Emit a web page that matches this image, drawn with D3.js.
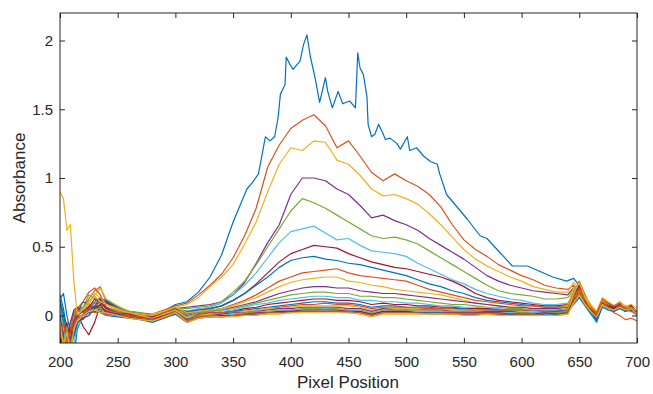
<!DOCTYPE html>
<html>
<head>
<meta charset="utf-8">
<script src="https://cdn.jsdelivr.net/npm/d3@7"></script>
<style>
    body { margin: 0; background: #fff; }
    #chart { width: 653px; height: 394px; }
    text { font-family: "Liberation Sans", Arial, sans-serif; fill: #262626; }
</style>
</head>
<body>
<div id="chart"></div>
<script>
// pixel positions shared by most spectra
const pixelGrid = [200,203,206,209,212,215,220,225,230,235,240,250,260,270,280,290,300,310,320,330,340,350,360,370,380,390,400,410,420,430,440,450,460,470,480,490,500,510,520,530,540,550,560,570,580,590,600,610,620,630,640,645,650,655,660,665,670,675,680,685,690,695,700];

// finer positions for the strongest spectrum (sharp spikes)
const peakGrid = [200,203,206,209,212,215,220,225,230,235,240,250,260,270,280,290,300,310,320,330,340,350,356,362,367,372,378,382,386,389,391,395,396,399,402,408,411,414,417,421,425,430,432,436,441,445,451,456,458,460,463,466,467,470,473,476,479,482,486,492,495,501,503,509,515,521,527,529,535,541,553,564,570,581,592,605,616,627,639,645,650,655,660,665,670,675,680,685,690,695,700];

const abs01 = [0.12,0.16,0.0,-0.12,-0.05,0.05,0.06,0.05,0.1,0.12,0.1,0.06,0.02,0.01,0.0,0.03,0.08,0.1,0.17,0.28,0.44,0.68,0.8,0.92,0.97,1.03,1.3,1.27,1.3,1.44,1.61,1.68,1.88,1.83,1.79,1.85,1.97,2.04,1.88,1.73,1.55,1.73,1.63,1.51,1.63,1.54,1.56,1.51,1.91,1.8,1.75,1.59,1.39,1.30,1.32,1.39,1.34,1.28,1.29,1.25,1.21,1.30,1.2,1.22,1.16,1.12,1.1,1.03,0.88,0.82,0.70,0.58,0.56,0.46,0.36,0.36,0.32,0.28,0.25,0.27,0.22,0.15,0.02,-0.05,0.1,0.08,0.05,0.07,0.05,0.06,0.02];
const abs02 = [-0.1,-0.22,-0.15,-0.05,0.02,0.04,0.05,0.12,0.18,0.21,0.1,0.05,0.03,0.02,0.01,0.04,0.07,0.09, 0.15,0.22,0.3,0.42,0.58,0.78,1.08,1.24,1.36,1.42,1.46,1.38,1.22,1.27,1.16,1.04,0.98,1.03,0.98,0.94,0.88,0.79,0.66,0.55,0.48,0.43,0.37,0.33,0.29,0.26,0.22,0.2,0.19, 0.22,0.18,0.12,0.06,-0.02,0.1,0.06,0.04,0.07,0.03,0.05,0.01];
const abs03 = [0.02,-0.18,-0.25,-0.12,0.0,0.06,0.03,0.1,0.15,0.2,0.12,0.07,0.03,0.0,0.01,0.03,0.06,0.08, 0.13,0.21,0.28,0.37,0.52,0.68,0.9,1.1,1.22,1.2,1.27,1.26,1.13,1.1,1.02,0.92,0.87,0.88,0.85,0.81,0.74,0.66,0.57,0.48,0.41,0.36,0.32,0.28,0.25,0.21,0.19,0.17,0.17, 0.24,0.2,0.14,0.07,0.0,0.12,0.08,0.05,0.09,0.06,0.07,0.03];
const abs04 = [-0.05,-0.2,-0.3,-0.15,-0.02,0.05,0.02,0.07,0.1,0.13,0.09,0.05,0.02,0.01,0.0,0.02,0.05,0.06, 0.07,0.08,0.1,0.15,0.24,0.38,0.53,0.66,0.88,1.0,1.0,0.98,0.92,0.88,0.8,0.71,0.73,0.69,0.66,0.62,0.56,0.51,0.46,0.41,0.35,0.29,0.25,0.22,0.2,0.18,0.17,0.16,0.15, 0.2,0.22,0.12,0.05,-0.03,0.09,0.07,0.03,0.08,0.05,0.04,0.02];
const abs05 = [0.08,-0.05,-0.25,-0.2,0.0,0.04,0.06,0.15,0.12,0.09,0.08,0.04,0.03,0.02,-0.01,0.02,0.05,0.05, 0.06,0.07,0.1,0.17,0.25,0.37,0.5,0.63,0.76,0.85,0.82,0.78,0.73,0.68,0.63,0.58,0.56,0.57,0.55,0.52,0.47,0.42,0.37,0.32,0.27,0.22,0.18,0.16,0.15,0.14,0.12,0.12,0.13, 0.18,0.24,0.1,0.06,0.02,0.11,0.05,0.06,0.1,0.04,0.06,0.0];
const abs06 = [0.0,-0.15,-0.22,-0.3,-0.1,-0.05,0.0,0.05,0.1,0.08,0.06,0.03,0.01,-0.01,-0.02,0.01,0.04,0.03, 0.05,0.06,0.09,0.15,0.22,0.31,0.42,0.53,0.61,0.63,0.65,0.6,0.55,0.56,0.51,0.47,0.46,0.45,0.43,0.38,0.34,0.3,0.26,0.23,0.19,0.16,0.14,0.12,0.11,0.09,0.08,0.08,0.09, 0.15,0.2,0.13,0.04,-0.04,0.08,0.06,0.04,0.06,0.07,0.03,0.04];
const abs07 = [-0.15,-0.28,-0.2,-0.1,-0.05,0.02,-0.08,-0.14,-0.05,0.08,0.1,0.04,0.02,0.0,-0.01,0.01,0.05,0.02, 0.04,0.05,0.07,0.11,0.16,0.23,0.31,0.39,0.45,0.48,0.51,0.5,0.49,0.45,0.42,0.39,0.37,0.35,0.34,0.32,0.3,0.28,0.25,0.21,0.16,0.13,0.11,0.1,0.09,0.08,0.07,0.07,0.08, 0.14,0.19,0.11,0.05,0.01,0.1,0.09,0.05,0.07,0.04,0.08,0.01];
const abs08 = [0.15,0.05,-0.1,-0.22,-0.05,0.02,0.1,0.08,0.05,0.12,0.11,0.06,0.02,0.01,-0.02,0.02,0.05,0.03, 0.04,0.05,0.07,0.11,0.16,0.22,0.28,0.35,0.4,0.42,0.43,0.41,0.4,0.38,0.37,0.35,0.33,0.31,0.29,0.26,0.23,0.21,0.18,0.16,0.13,0.11,0.1,0.09,0.08,0.07,0.06,0.06,0.07, 0.17,0.21,0.12,0.03,-0.05,0.1,0.07,0.06,0.08,0.06,0.04,0.03];
const abs09 = [-0.2,-0.1,-0.25,-0.1,0.02,0.05,0.1,0.17,0.2,0.15,0.06,0.03,0.02,0.0,0.0,0.02,0.06,0.01, 0.03,0.04,0.05,0.08,0.11,0.15,0.2,0.25,0.28,0.31,0.32,0.33,0.34,0.31,0.29,0.28,0.27,0.26,0.25,0.22,0.19,0.17,0.15,0.13,0.11,0.1,0.09,0.08,0.07,0.07,0.06,0.06,0.08, 0.16,0.25,0.15,0.06,-0.01,0.12,0.06,0.02,0.0,-0.03,-0.02,-0.04];
const abs10 = [0.05,-0.12,-0.2,-0.28,-0.05,0.03,0.04,0.08,0.16,0.13,0.08,0.05,0.02,0.01,0.0,0.03,0.06,0.02, 0.03,0.04,0.05,0.07,0.1,0.13,0.17,0.21,0.24,0.26,0.27,0.28,0.28,0.25,0.24,0.22,0.21,0.19,0.18,0.17,0.16,0.15,0.13,0.11,0.09,0.08,0.07,0.06,0.06,0.05,0.05,0.05,0.07, 0.2,0.23,0.14,0.08,0.03,0.13,0.1,0.07,0.1,0.07,0.08,0.05];
const abs11 = [-0.1,-0.25,-0.18,-0.05,0.04,0.06,0.02,0.03,0.07,0.12,0.06,0.02,0.0,-0.01,-0.02,0.0,0.04,0.0, 0.02,0.03,0.04,0.06,0.08,0.1,0.13,0.16,0.18,0.2,0.21,0.21,0.2,0.2,0.18,0.17,0.16,0.16,0.15,0.14,0.13,0.12,0.11,0.1,0.09,0.08,0.07,0.06,0.06,0.05,0.05,0.05,0.06, 0.12,0.18,0.1,0.05,0.0,0.09,0.06,0.05,0.08,0.04,0.05,0.02];
const abs12 = [0.1,-0.02,-0.2,-0.15,-0.03,0.02,0.06,0.1,0.14,0.08,0.05,0.03,0.01,0.0,-0.03,0.01,0.04,-0.01, 0.02,0.03,0.04,0.05,0.07,0.09,0.11,0.13,0.15,0.16,0.17,0.17,0.16,0.16,0.14,0.14,0.13,0.13,0.12,0.11,0.1,0.09,0.08,0.08,0.07,0.06,0.06,0.05,0.05,0.04,0.04,0.04,0.05, 0.15,0.2,0.09,0.04,-0.02,0.1,0.08,0.03,0.07,0.06,0.03,0.01];
const abs13 = [-0.05,-0.25,-0.3,-0.2,-0.1,-0.02,0.05,0.02,0.03,0.06,0.04,0.02,0.0,-0.02,-0.03,0.0,0.03,-0.02, 0.01,0.02,0.03,0.04,0.06,0.08,0.09,0.11,0.12,0.13,0.14,0.14,0.13,0.13,0.11,0.11,0.1,0.1,0.09,0.09,0.08,0.07,0.07,0.06,0.06,0.05,0.05,0.04,0.04,0.04,0.03,0.03,0.04, 0.1,0.16,0.11,0.03,-0.03,0.07,0.05,0.04,0.09,0.05,0.06,0.03];
const abs14 = [-0.25,-0.12,-0.05,-0.2,-0.1,0.0,0.03,0.06,0.12,0.1,0.05,0.02,0.01,-0.01,-0.02,0.0,0.03,-0.03, 0.01,0.02,0.02,0.03,0.05,0.06,0.08,0.09,0.1,0.11,0.12,0.12,0.11,0.11,0.1,0.08,0.09,0.08,0.08,0.07,0.07,0.06,0.06,0.05,0.05,0.05,0.04,0.04,0.04,0.03,0.03,0.03,0.04, 0.13,0.22,0.1,0.05,0.01,0.11,0.07,0.06,0.06,0.03,0.07,0.0];
const abs15 = [0.1,0.02,-0.15,-0.2,-0.3,-0.1,0.0,0.05,0.07,0.05,0.03,0.01,0.0,-0.02,-0.03,-0.01,0.03,-0.03, 0.0,0.01,0.02,0.03,0.04,0.05,0.06,0.07,0.08,0.09,0.1,0.1,0.09,0.09,0.08,0.06,0.07,0.07,0.06,0.06,0.06,0.05,0.05,0.05,0.04,0.04,0.04,0.03,0.03,0.03,0.03,0.03,0.04, 0.11,0.17,0.08,0.02,-0.04,0.08,0.06,0.05,0.07,0.05,0.05,0.02];
const abs16 = [-0.08,-0.2,-0.1,-0.25,-0.05,0.04,0.02,0.05,0.09,0.06,0.04,0.02,0.0,-0.01,-0.02,0.0,0.03,-0.04, 0.01,0.02,0.02,0.03,0.03,0.04,0.05,0.06,0.07,0.08,0.08,0.09,0.08,0.08,0.07,0.05,0.06,0.06,0.06,0.05,0.05,0.05,0.05,0.04,0.04,0.04,0.04,0.03,0.03,0.03,0.03,0.02,0.04, 0.14,0.2,0.12,0.06,0.02,0.12,0.09,0.07,0.09,0.06,0.06,0.03];
const abs17 = [0.9,0.85,0.62,0.66,0.25,0.0,0.05,0.1,0.14,0.1,0.08,0.04,0.02,0.0,-0.02,0.01,0.04,-0.02, 0.0,0.01,0.01,0.02,0.03,0.04,0.05,0.05,0.06,0.07,0.07,0.07,0.07,0.07,0.06,0.04,0.05,0.05,0.05,0.05,0.04,0.04,0.04,0.04,0.04,0.03,0.03,0.03,0.03,0.03,0.02,0.02,0.03, 0.16,0.24,0.13,0.05,0.0,0.11,0.07,0.04,0.08,0.07,0.05,0.04];
const abs18 = [0.0,-0.15,-0.28,-0.18,-0.04,0.0,-0.03,0.04,0.06,0.04,0.03,0.01,-0.01,-0.02,-0.03,0.0,0.02,-0.03, 0.0,0.0,0.01,0.02,0.02,0.03,0.04,0.05,0.05,0.06,0.06,0.06,0.06,0.05,0.05,0.03,0.05,0.04,0.04,0.04,0.04,0.04,0.03,0.03,0.03,0.03,0.03,0.03,0.02,0.02,0.02,0.02,0.03, 0.1,0.15,0.09,0.03,-0.02,0.08,0.05,0.05,0.06,0.04,0.04,0.01];
const abs19 = [-0.12,-0.2,-0.08,-0.22,-0.12,-0.03,0.0,0.03,0.05,0.05,0.02,0.0,-0.01,-0.03,-0.04,-0.01,0.02,-0.04, 0.0,0.0,0.0,0.01,0.02,0.03,0.03,0.04,0.04,0.05,0.05,0.05,0.05,0.04,0.04,0.02,0.04,0.04,0.04,0.03,0.03,0.03,0.03,0.03,0.03,0.02,0.02,0.02,0.02,0.02,0.02,0.02,0.03, 0.12,0.18,0.1,0.04,0.01,0.1,0.06,0.04,0.07,0.05,0.06,0.02];
const abs20 = [0.05,-0.1,-0.2,-0.26,-0.2,-0.08,-0.02,0.02,0.04,0.03,0.01,0.0,-0.02,-0.03,-0.04,-0.02,0.02,-0.04, -0.01,0.0,0.0,0.01,0.01,0.02,0.03,0.03,0.04,0.04,0.04,0.05,0.04,0.04,0.03,0.01,0.03,0.03,0.03,0.03,0.03,0.03,0.02,0.02,0.02,0.02,0.02,0.02,0.01,0.02,0.02,0.01,0.02, 0.09,0.14,0.08,0.02,-0.05,0.07,0.04,0.03,0.06,0.04,0.03,0.0];
const abs21 = [-0.18,-0.3,-0.22,-0.1,-0.15,-0.05,-0.02,0.0,0.05,0.08,0.02,0.0,-0.01,-0.02,-0.03,-0.01,0.01,-0.05, -0.01,-0.01,0.0,0.0,0.01,0.02,0.02,0.03,0.03,0.04,0.04,0.04,0.04,0.03,0.03,0.01,0.03,0.03,0.03,0.02,0.02,0.02,0.02,0.02,0.02,0.02,0.02,0.01,0.01,0.01,0.02,0.01,0.02, 0.11,0.16,0.1,0.04,0.0,0.09,0.07,0.05,0.08,0.04,0.05,0.02];
const abs22 = [0.12,-0.05,-0.18,-0.24,-0.15,-0.06,0.0,0.02,0.03,0.02,0.0,-0.01,-0.02,-0.03,-0.05,-0.02,0.01,-0.05, -0.02,-0.01,-0.01,0.0,0.0,0.01,0.02,0.02,0.03,0.03,0.03,0.03,0.03,0.02,0.02,0.0,0.02,0.02,0.02,0.02,0.02,0.02,0.01,0.01,0.01,0.01,0.01,0.01,0.01,0.0,0.01,0.01,0.02, 0.08,0.13,0.07,0.01,-0.04,0.06,0.04,0.03,0.05,0.03,0.04,0.01];
const abs23 = [-0.15,-0.05,-0.2,-0.12,-0.08,-0.02,0.01,0.04,0.02,0.03,0.01,0.0,-0.01,-0.02,-0.03,-0.02,0.02,-0.04, -0.01,0.0,-0.01,0.0,0.01,0.01,0.02,0.02,0.02,0.03,0.03,0.03,0.03,0.03,0.02,0.0,0.02,0.02,0.02,0.02,0.01,0.01,0.01,0.01,0.01,0.01,0.01,0.0,0.01,0.01,0.0,0.0,0.01, 0.1,0.17,0.09,0.05,0.01,0.1,0.06,0.04,0.07,0.05,0.03,0.02];
const abs24 = [-0.05,-0.22,-0.12,-0.28,-0.1,-0.04,0.0,0.03,0.04,0.02,0.02,0.0,-0.02,-0.03,-0.04,-0.01,0.02,-0.05, -0.02,-0.01,-0.01,-0.01,0.0,0.0,0.01,0.01,0.02,0.02,0.02,0.02,0.02,0.02,0.01,-0.01,0.01,0.01,0.01,0.01,0.01,0.01,0.01,0.0,0.0,0.01,0.0,0.0,0.0,0.0,0.0,0.0,0.01, 0.09,0.15,0.08,0.03,-0.01,0.08,0.05,0.04,0.06,0.04,0.05,0.01];

const spectra = [abs01, abs02, abs03, abs04, abs05, abs06, abs07, abs08, abs09, abs10, abs11, abs12,
                 abs13, abs14, abs15, abs16, abs17, abs18, abs19, abs20, abs21, abs22, abs23, abs24];

// MATLAB default line colour order
const colorOrder = ["#0072BD", "#D95319", "#EDB120", "#7E2F8E", "#77AC30", "#4DBEEE", "#A2142F"];

const xTicks = [200, 250, 300, 350, 400, 450, 500, 550, 600, 650, 700];
const yTicks = [0, 0.5, 1, 1.5, 2];

const margin = {top: 13, right: 16, bottom: 51, left: 60};
const width = 653 - margin.left - margin.right;
const height = 394 - margin.top - margin.bottom;

const svg = d3.select("#chart").append("svg")
    .attr("width", 653)
    .attr("height", 394);

const g = svg.append("g")
    .attr("transform", `translate(${margin.left},${margin.top})`);

const x = d3.scaleLinear().domain([200, 700]).range([0, width]);
const y = d3.scaleLinear().domain([-0.2, 2.2]).range([height, 0]);

// clip the traces to the axes box
g.append("clipPath").attr("id", "plot-clip")
    .append("rect").attr("width", width).attr("height", height);

const line = d3.line()
    .x(d => x(d[0]))
    .y(d => y(d[1]));

g.append("g")
    .attr("clip-path", "url(#plot-clip)")
    .selectAll("path")
    .data(spectra)
    .enter().append("path")
    .attr("d", (d, i) => line(d3.zip(i === 0 ? peakGrid : pixelGrid, d)))
    .attr("fill", "none")
    .attr("stroke", (d, i) => colorOrder[i % colorOrder.length])
    .attr("stroke-width", 1.2)
    .attr("stroke-linejoin", "round");

// axes: ticks point inward on all four sides
const axisColor = "#262626";
const fmt = d => d3.format("~g")(d);

const xBottom = g.append("g").attr("transform", `translate(0,${height})`)
    .call(d3.axisBottom(x).tickValues(xTicks).tickFormat(fmt).tickSizeInner(-5).tickSizeOuter(0).tickPadding(13));
const xTop = g.append("g")
    .call(d3.axisTop(x).tickValues(xTicks).tickFormat("").tickSizeInner(-5).tickSizeOuter(0));
const yLeft = g.append("g")
    .call(d3.axisLeft(y).tickValues(yTicks).tickFormat(fmt).tickSizeInner(-5).tickSizeOuter(0).tickPadding(7));
const yRight = g.append("g").attr("transform", `translate(${width},0)`)
    .call(d3.axisRight(y).tickValues(yTicks).tickFormat("").tickSizeInner(-5).tickSizeOuter(0));

[xBottom, xTop, yLeft, yRight].forEach(a => {
    a.select(".domain").remove();
    a.selectAll("line").attr("stroke", axisColor);
    a.selectAll("text").style("font-size", "15px").attr("fill", axisColor);
});

g.append("rect")
    .attr("width", width)
    .attr("height", height)
    .attr("fill", "none")
    .attr("stroke", axisColor)
    .attr("stroke-width", 1);

// axis labels
svg.append("text")
    .attr("x", 348)
    .attr("y", 388)
    .attr("text-anchor", "middle")
    .style("font-size", "17px")
    .text("Pixel Position");

svg.append("text")
    .attr("transform", "translate(25,178) rotate(-90)")
    .attr("text-anchor", "middle")
    .style("font-size", "17px")
    .text("Absorbance");
</script>
</body>
</html>
